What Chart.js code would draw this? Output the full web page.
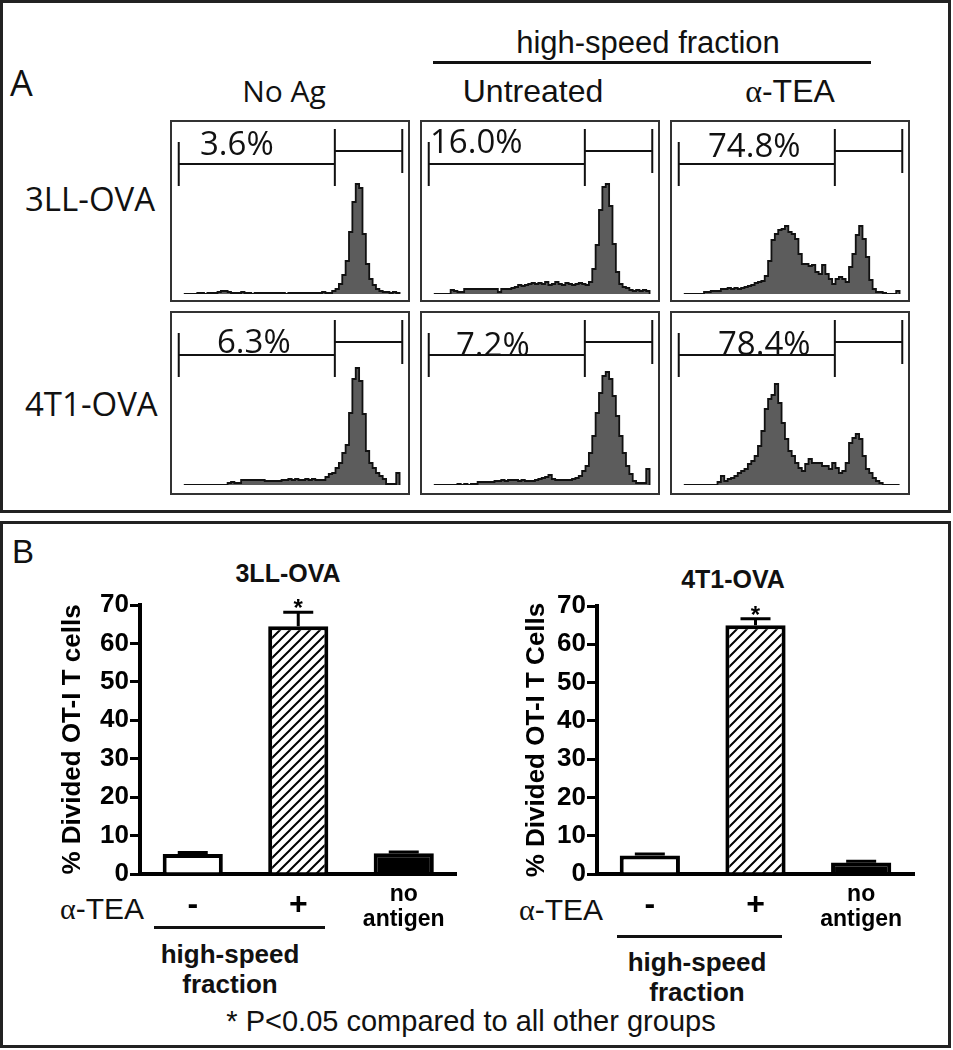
<!DOCTYPE html>
<html>
<head>
<meta charset="utf-8">
<script src="https://cdn.jsdelivr.net/npm/chart.js@4.4.0/dist/chart.umd.min.js"></script>
<style>
  body { margin: 0; background: #fff; }
  #fig { position: relative; width: 953px; height: 1050px; background: #fff; overflow: hidden; }
  .panel { position: absolute; border: 3px solid #222; box-sizing: border-box; }
  .box { position: absolute; border: 2px solid #333; box-sizing: border-box; }
  .box canvas { position: absolute; left: 0; top: 0; }
  .t { position: absolute; white-space: nowrap; line-height: 1; color: #111; }
  .c { transform: translateX(-50%); }
  .rule { position: absolute; background: #111; }
  .bar-canvas { position: absolute; }
</style>
</head>
<body>
<div id="fig">
  <div class="panel" style="left:0;top:0;width:951px;height:513px;"></div>
  <div class="panel" style="left:0;top:521px;width:951px;height:527px;"></div>
  <div class="rule" style="left:433px;top:61px;width:438px;height:3px;"></div>
  <div class="rule" style="left:154px;top:926px;width:171px;height:3px;"></div>
  <div class="rule" style="left:617px;top:935px;width:165px;height:3px;"></div>
</div>
<script>
// ---- Panel A: CFSE histograms, 64 bins each (counts)
const HIST_3LL_NOAG = [0,0,0,0,1,1,0,1,1,1, 2,3,3,2,1,1,1,2,1,1, 0,1,1,1,1,1,1,1,1,1, 0,1,1,1,1,1,1,1,1,1, 1,2,1,1,3,5,10,19,33,62, 92,110,106,60,30,15,9,5,3,2, 2,1,2,1];
const HIST_3LL_UNTR = [0,0,0,0,0,4,3,2,2,5, 5,5,5,5,5,5,5,5,5,2, 5,5,5,6,7,9,8,9,10,11, 10,11,10,12,9,10,12,10,9,11, 10,9,10,11,10,9,12,25,49,84, 107,110,88,50,22,10,7,6,4,3, 4,3,4,3];
const HIST_3LL_TEA  = [0,0,0,0,0,0,2,2,3,3, 3,5,5,6,5,6,5,6,7,8, 9,11,12,13,18,33,54,60,64,65, 68,62,60,55,40,30,30,28,29,22, 20,29,20,15,10,15,17,15,12,27, 40,59,68,55,37,14,5,2,2,1, 0,0,0,3];
const HIST_4T1_NOAG = [0,0,0,0,0,0,0,0,0,0, 0,0,0,2,3,2,2,5,5,5, 5,5,5,5,4,4,4,4,4,5, 5,6,5,6,5,5,6,5,6,5, 5,5,8,11,12,17,22,32,40,72, 106,117,104,71,34,22,17,12,9,6, 1,1,1,12];
const HIST_4T1_UNTR = [0,0,0,0,0,0,0,1,0,1, 0,1,1,3,3,3,3,3,4,4, 5,4,5,5,5,4,5,4,4,4, 5,6,7,8,10,6,5,5,5,5, 5,6,7,9,14,19,32,49,72,92, 109,113,106,89,69,49,32,19,11,4, 2,2,2,16];
const HIST_4T1_TEA  = [0,0,0,0,0,0,0,0,0,0, 3,9,4,6,7,9,12,14,16,21, 24,29,39,54,76,86,90,101,82,62, 46,34,29,22,17,14,21,26,22,22, 22,19,19,16,22,17,12,14,22,42, 47,51,46,29,16,12,7,4,2,0, 0,0,0,0];
const HIST_PCT = ['3.6%', '16.0%', '74.8%', '6.3%', '7.2%', '78.4%'];
// marker gate, in bin / count units
const GATE_X = [-1.5, 44.8, 64.8];
const GATE_Y = { long: 130, short: 143, low: 108, leftTop: 152, top: 165, rightLow: 121 };

// ---- Panel B: % divided OT-I cells
const CAT_LABELS = ['-', '+', ['no', 'antigen']];
const LL_MEAN = [5.2, 64.5, 5.4];
const LL_ERR = [0.4, 3.6, 0.3];
const T1_MEAN = [4.8, 65.0, 3.0];
const T1_ERR = [0.4, 1.7, 0.3];
const SIG = [false, true, false];
const Y_TICK_MAX = 70;

const SANS = '"Liberation Sans", Arial, sans-serif';
const MYRIAD = '"Open Sans", "Noto Sans", sans-serif';
Chart.defaults.font.family = SANS;
Chart.defaults.color = '#000';

const fig = document.getElementById('fig');

function label(html, x, base, size, opts) {
  opts = opts || {};
  const os = opts.family === 'os';
  const d = document.createElement('div');
  d.className = 't' + (opts.center ? ' c' : '');
  d.style.left = x + 'px';
  d.style.top = (base - (os ? 0.888 : 0.8465) * size) + 'px';
  d.style.fontSize = size + 'px';
  d.style.fontFamily = os ? MYRIAD : SANS;
  if (opts.bold) d.style.fontWeight = 'bold';
  d.innerHTML = html;
  fig.appendChild(d);
}
const ALPHA = '<span style="font-family:\'Liberation Serif\',serif">α</span>';

// panel A text
label('A', 10, 97, 36, { family: 'os' });
label('No Ag', 284, 103, 30, { family: 'os', center: true });
label('high-speed fraction', 648, 53, 31, { center: true });
label('Untreated', 533, 102, 32, { center: true });
label(ALPHA + '-TEA', 790, 102, 32, { center: true });
label('3LL-OVA', 25, 211, 33, { family: 'os' });
label('4T1-OVA', 25, 416, 33, { family: 'os' });

// panel B text
label('B', 12, 563, 33);
label('3LL-OVA', 288, 582, 25, { bold: true, center: true });
label('4T1-OVA', 733, 588, 25, { bold: true, center: true });
label(ALPHA + '-TEA', 102, 919, 30, { center: true });
label(ALPHA + '-TEA', 561, 920, 30, { center: true });
label('high-speed', 230, 963, 26, { bold: true, center: true });
label('fraction', 230, 993, 26, { bold: true, center: true });
label('high-speed', 697, 971, 26, { bold: true, center: true });
label('fraction', 697, 1001, 26, { bold: true, center: true });
label('* P&lt;0.05 compared to all other groups', 471, 1032, 29, { center: true });

// ---- histograms
const gatePlugin = {
  id: 'gate',
  afterDatasetsDraw(chart) {
    const { ctx, scales: { x, y } } = chart;
    const [a, b, c] = GATE_X.map((v) => x.getPixelForValue(v));
    const py = (v) => y.getPixelForValue(v);
    ctx.save();
    ctx.strokeStyle = '#111';
    ctx.lineWidth = 2;
    ctx.beginPath();
    ctx.moveTo(a, py(GATE_Y.long)); ctx.lineTo(b, py(GATE_Y.long));
    ctx.moveTo(b, py(GATE_Y.short)); ctx.lineTo(c, py(GATE_Y.short));
    ctx.moveTo(a, py(GATE_Y.low)); ctx.lineTo(a, py(GATE_Y.leftTop));
    ctx.moveTo(b, py(GATE_Y.low)); ctx.lineTo(b, py(GATE_Y.top));
    ctx.moveTo(c, py(GATE_Y.rightLow)); ctx.lineTo(c, py(GATE_Y.top));
    ctx.stroke();
    ctx.restore();
  },
};

const HISTS = [HIST_3LL_NOAG, HIST_3LL_UNTR, HIST_3LL_TEA, HIST_4T1_NOAG, HIST_4T1_UNTR, HIST_4T1_TEA];
const BOX_LEFT = [170, 420, 670];
const ROW_TOP = [120, 311];
const ROW_H = [182, 184];
const PCT_POS = [[200, 155], [430, 153], [708, 157], [217, 353], [456, 356], [718, 355]];

HISTS.forEach((bins, k) => {
  const row = Math.floor(k / 3);
  const col = k % 3;
  const box = document.createElement('div');
  box.className = 'box';
  box.style.left = BOX_LEFT[col] + 'px';
  box.style.top = ROW_TOP[row] + 'px';
  box.style.width = '240px';
  box.style.height = ROW_H[row] + 'px';
  const cv = document.createElement('canvas');
  const innerH = ROW_H[row] - 4;
  cv.width = 236;
  cv.height = innerH;
  box.appendChild(cv);
  fig.appendChild(box);
  const pts = bins.map((v, i) => ({ x: i, y: v })).concat([{ x: bins.length, y: 0 }]);
  new Chart(cv.getContext('2d'), {
    type: 'line',
    data: {
      datasets: [{
        data: pts,
        stepped: true,
        fill: 'origin',
        backgroundColor: '#5c5c5c',
        borderColor: '#111',
        borderWidth: 1.8,
        pointRadius: 0,
      }],
    },
    options: {
      responsive: false,
      animation: false,
      layout: { padding: { bottom: innerH - 172 } },
      plugins: { legend: { display: false }, tooltip: { enabled: false } },
      scales: {
        x: { type: 'linear', min: -3.5, max: 66.5, display: false },
        y: { min: 0, max: 172, display: false },
      },
    },
    plugins: [gatePlugin],
  });
  label(HIST_PCT[k], PCT_POS[k][0], PCT_POS[k][1], 33, { family: 'os' });
});

// ---- bar charts
function hatchPattern() {
  const c = document.createElement('canvas');
  c.width = 10;
  c.height = 10;
  const g = c.getContext('2d');
  g.fillStyle = '#fff';
  g.fillRect(0, 0, 10, 10);
  g.strokeStyle = '#000';
  g.lineWidth = 2;
  g.beginPath();
  g.moveTo(-1, 11); g.lineTo(11, -1);
  g.moveTo(-1, 1); g.lineTo(1, -1);
  g.moveTo(9, 11); g.lineTo(11, 9);
  g.stroke();
  return g.createPattern(c, 'repeat');
}

const errPlugin = {
  id: 'errBars',
  afterDatasetsDraw(chart, args, opts) {
    const { ctx, scales: { y } } = chart;
    const meta = chart.getDatasetMeta(0);
    ctx.save();
    ctx.strokeStyle = '#000';
    ctx.fillStyle = '#000';
    ctx.lineWidth = 3;
    meta.data.forEach((bar, i) => {
      const top = y.getPixelForValue(opts.mean[i] + opts.err[i]);
      ctx.beginPath();
      ctx.moveTo(bar.x, bar.y);
      ctx.lineTo(bar.x, top);
      ctx.moveTo(bar.x - 15, top);
      ctx.lineTo(bar.x + 15, top);
      ctx.stroke();
      if (opts.sig[i]) {
        ctx.font = 'bold 24px ' + SANS;
        ctx.textAlign = 'center';
        ctx.textBaseline = 'alphabetic';
        ctx.fillText('*', bar.x, top + 4);
      }
    });
    ctx.restore();
  },
};

const catPlugin = {
  id: 'catLabels',
  afterDraw(chart) {
    const { ctx, scales: { x }, chartArea } = chart;
    ctx.save();
    ctx.fillStyle = '#000';
    ctx.textAlign = 'center';
    ctx.textBaseline = 'middle';
    chart.data.labels.forEach((lab, i) => {
      const px = x.getPixelForValue(i);
      if (Array.isArray(lab)) {
        ctx.font = 'bold 23px ' + SANS;
        lab.forEach((l, j) => ctx.fillText(l, px, chartArea.bottom + 21 + j * 25));
      } else {
        ctx.font = 'bold 32px ' + SANS;
        ctx.fillText(lab, px, chartArea.bottom + 31);
      }
    });
    ctx.restore();
  },
};

function barChart(left, mean, err, yTitle, pad, axisW) {
  const cv = document.createElement('canvas');
  cv.className = 'bar-canvas';
  cv.width = left === 0 ? 476 : 477;
  cv.height = 420;
  cv.style.left = left + 'px';
  cv.style.top = '560px';
  fig.appendChild(cv);
  new Chart(cv.getContext('2d'), {
    type: 'bar',
    data: {
      labels: CAT_LABELS,
      datasets: [{
        data: mean,
        backgroundColor: ['#fff', hatchPattern(), '#000'],
        borderColor: '#000',
        borderWidth: 4,
        barPercentage: 0.57,
        categoryPercentage: 1,
      }],
    },
    options: {
      responsive: false,
      animation: false,
      layout: { padding: pad },
      plugins: {
        legend: { display: false },
        tooltip: { enabled: false },
        errBars: { mean, err, sig: SIG },
      },
      scales: {
        x: {
          grid: { display: false },
          ticks: { display: false },
          border: { display: true, width: 4, color: '#000' },
          afterFit: (s) => { s.height = 0; },
        },
        y: {
          min: 0,
          max: Y_TICK_MAX,
          ticks: { stepSize: 10, padding: 1, color: '#000', font: { size: 26, weight: 'bold' } },
          grid: { drawOnChartArea: false, drawTicks: true, tickLength: 10, lineWidth: 3, color: '#000' },
          border: { width: 4, color: '#000' },
          title: { display: true, text: yTitle, color: '#000', font: { size: 26, weight: 'bold' } },
          afterFit: (s) => { s.width = axisW; },
        },
      },
    },
    plugins: [errPlugin, catPlugin],
  });
}

barChart(0, LL_MEAN, LL_ERR, '% Divided OT-I T cells', { left: 53, right: 19.5, top: 45, bottom: 106 }, 87);
barChart(476, T1_MEAN, T1_ERR, '% Divided OT-I T Cells', { left: 41, right: 39, top: 46, bottom: 106 }, 80);
</script>
</body>
</html>
